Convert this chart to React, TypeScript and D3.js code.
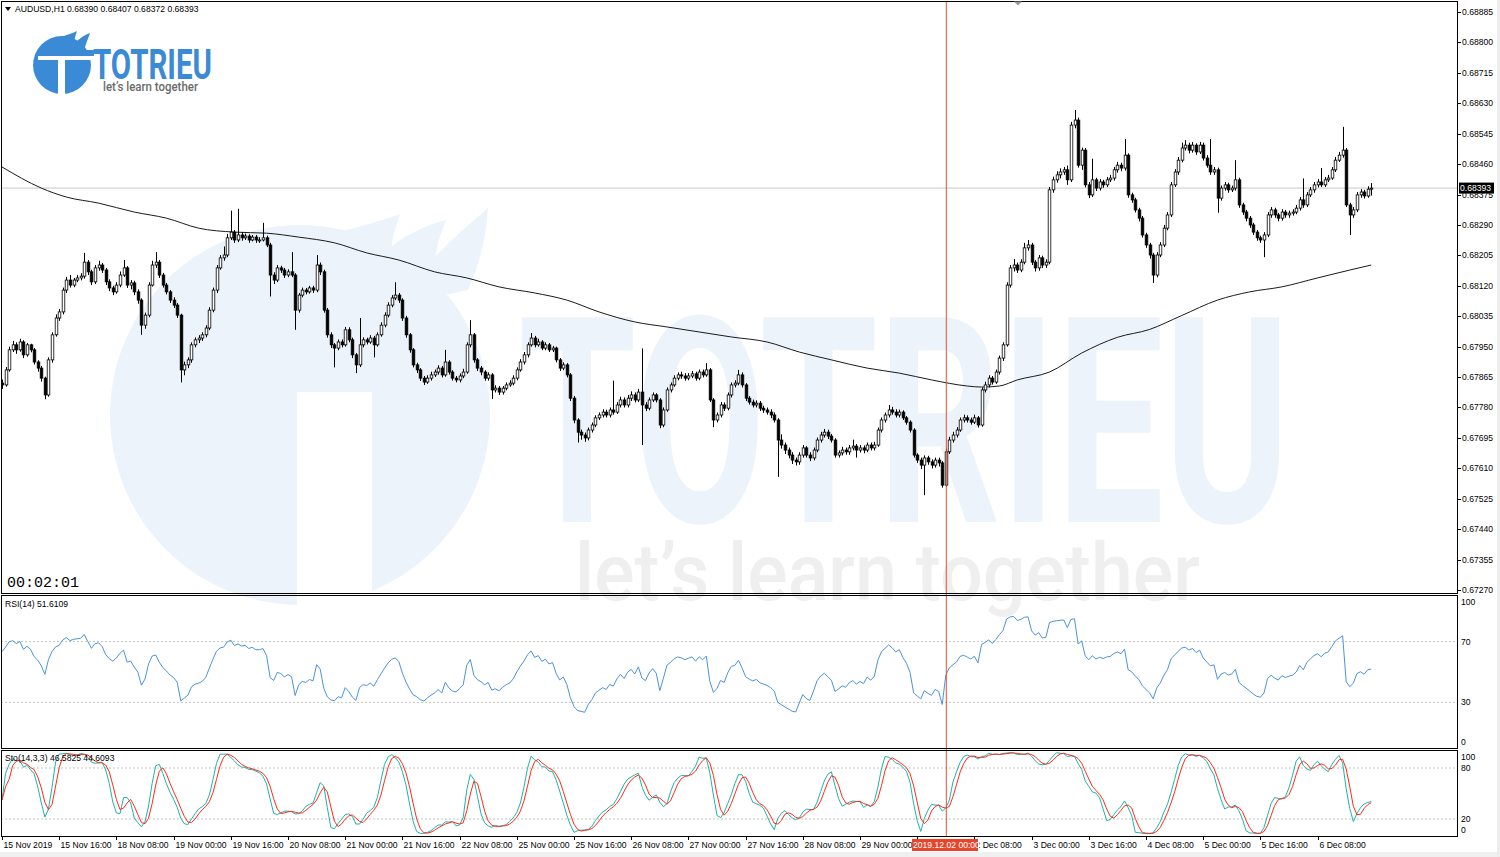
import React, { useEffect, useRef } from "react";
import * as d3 from "d3";

// AUDUSD H1 bars, prices in points above 0.67000: [close, high, low]
// open of each bar = close of the previous one
const firstOpen = 848;

const nov15 = [[843,858,832],[885,893,838],[941,950,880],[955,966,935],[941,962,930],[963,972,936],[927,968,918],[955,960,922],[941,958,934],[907,946,900],[890,912,880],[862,896,852],[815,866,803],[913,920,810],[983,990,905],[1030,1040,978],[1047,1055,1022],[1108,1115,1040],[1136,1145,1100],[1122,1150,1115],[1136,1142,1116],[1142,1150,1130],[1147,1155,1135],[1186,1212,1140]];
const nov18 = [[1159,1192,1150],[1131,1165,1122],[1170,1178,1125],[1178,1190,1162],[1164,1184,1156],[1131,1170,1122],[1114,1138,1105],[1103,1120,1094],[1122,1130,1098],[1150,1160,1116],[1170,1192,1145],[1122,1175,1114],[1128,1136,1110],[1103,1134,1094],[1080,1110,1070],[1010,1085,983],[1038,1045,1000],[1122,1130,1032],[1178,1190,1118],[1186,1214,1170],[1150,1192,1142],[1122,1156,1115],[1103,1128,1096],[1080,1108,1072]];
const nov19 = [[1066,1088,1058],[1038,1072,1030],[885,1042,850],[899,908,870],[913,920,890],[955,962,905],[969,976,948],[974,982,960],[983,990,966],[1002,1010,976],[1052,1060,996],[1108,1115,1046],[1170,1178,1100],[1198,1206,1165],[1206,1230,1190],[1254,1265,1200],[1270,1330,1248],[1248,1276,1240],[1262,1335,1242],[1254,1270,1246],[1259,1266,1248],[1248,1264,1240],[1256,1262,1244],[1248,1262,1240]];
const nov20 = [[1248,1256,1240],[1254,1296,1244],[1234,1260,1228],[1150,1240,1090],[1136,1158,1125],[1170,1178,1130],[1164,1176,1156],[1150,1170,1142],[1159,1166,1144],[1150,1214,1144],[1052,1155,997],[1094,1100,1045],[1108,1115,1088],[1103,1114,1096],[1114,1120,1098],[1108,1120,1100],[1178,1206,1102],[1159,1185,1150],[1052,1165,1045],[983,1058,975],[955,990,946],[946,960,892],[963,970,940],[955,970,948]];
const nov21 = [[997,1005,950],[969,1004,962],[927,975,918],[899,932,876],[955,1030,893],[969,976,948],[963,975,956],[974,982,958],[955,980,920],[983,990,950],[1010,1018,978],[1038,1046,1004],[1066,1074,1032],[1086,1094,1060],[1094,1130,1080],[1080,1100,1072],[1030,1085,1022],[983,1036,975],[941,988,933],[899,946,892],[885,905,876],[862,890,854],[851,868,843],[862,870,846]];
const nov22 = [[871,880,855],[879,886,865],[890,898,872],[871,896,864],[907,941,866],[879,912,872],[862,884,855],[857,868,850],[868,875,850],[879,888,862],[955,962,874],[983,1024,948],[913,988,905],[890,918,882],[879,896,870],[862,884,855],[871,878,855],[829,876,804],[834,842,822],[823,840,815],[834,840,816],[843,850,828],[848,856,838],[862,870,842]];
const nov25 = [[885,892,856],[907,915,880],[927,935,900],[955,962,920],[974,988,950],[955,980,948],[963,972,950],[946,968,940],[955,962,940],[941,960,935],[946,952,935],[913,950,906],[890,918,882],[899,906,884],[871,904,864],[806,876,798],[745,812,736],[711,750,682],[703,718,690],[695,710,684],[717,724,688],[731,738,710],[751,758,725],[759,766,745]];
const nov26 = [[767,775,752],[759,774,752],[773,780,752],[767,855,760],[787,795,762],[801,810,780],[787,808,780],[806,815,780],[815,825,798],[801,822,794],[823,832,795],[787,945,675],[778,795,770],[801,808,772],[815,822,795],[801,820,794],[731,806,722],[773,780,725],[829,836,768],[843,850,822],[862,870,838],[871,878,856],[868,880,860],[862,876,855]];
const nov27 = [[868,876,856],[874,882,862],[862,880,855],[879,886,856],[871,886,864],[885,904,866],[801,890,795],[745,806,725],[759,766,738],[787,795,752],[778,794,770],[815,822,772],[843,850,808],[848,856,836],[871,885,842],[843,878,836],[806,848,798],[795,812,788],[787,802,780],[792,800,780],[778,798,770],[773,785,765],[767,780,760],[759,775,750]];
const nov28 = [[745,766,738],[689,750,586],[675,705,665],[661,682,650],[647,668,638],[633,655,622],[628,640,618],[647,655,620],[667,675,640],[647,672,640],[639,655,630],[661,668,632],[689,696,655],[703,712,682],[711,720,696],[700,718,692],[689,706,682],[647,694,640],[653,660,640],[661,670,646],[656,668,648],[667,675,648],[672,690,660],[661,678,640]];
const nov29 = [[667,675,654],[661,674,652],[675,682,655],[667,682,660],[675,684,660],[717,724,670],[745,752,710],[759,766,738],[773,787,752],[767,782,760],[759,775,752],[767,774,752],[751,772,745],[739,756,732],[717,744,710],[647,722,640],[633,652,625],[619,640,608],[639,646,535],[628,645,620],[619,635,610],[633,640,612],[625,640,615],[563,630,556]];
const dec02 = [[656,665,558],[689,698,650],[703,712,682],[717,725,696],[745,752,712],[751,760,738],[745,758,738],[739,752,732],[751,760,734],[731,756,724],[829,836,726],[843,852,822],[862,870,836],[851,868,844],[879,886,846],[918,925,872],[955,962,910],[1122,1130,950],[1170,1178,1115],[1178,1195,1160],[1164,1185,1156],[1186,1194,1158],[1226,1240,1180],[1234,1248,1218]];
const dec03 = [[1186,1240,1178],[1170,1192,1160],[1198,1206,1162],[1178,1204,1170],[1186,1194,1170],[1388,1396,1180],[1416,1425,1380],[1430,1440,1408],[1438,1448,1420],[1444,1452,1430],[1416,1456,1402],[1569,1578,1410],[1583,1611,1560],[1457,1590,1450],[1499,1506,1444],[1402,1505,1395],[1374,1410,1365],[1416,1475,1368],[1393,1422,1385],[1410,1418,1386],[1402,1416,1394],[1416,1424,1396],[1421,1430,1410],[1444,1452,1414]];
const dec04 = [[1457,1466,1436],[1449,1464,1440],[1485,1530,1442],[1374,1490,1366],[1360,1380,1352],[1332,1366,1325],[1309,1338,1300],[1262,1315,1255],[1234,1268,1226],[1206,1240,1196],[1150,1212,1128],[1206,1214,1144],[1234,1242,1200],[1281,1290,1228],[1318,1326,1275],[1402,1410,1312],[1438,1446,1396],[1471,1480,1430],[1505,1520,1465],[1513,1527,1498],[1499,1520,1490],[1513,1522,1492],[1494,1518,1486],[1513,1522,1488]];
const dec05 = [[1477,1520,1470],[1457,1485,1450],[1438,1530,1430],[1444,1452,1430],[1365,1450,1324],[1393,1400,1358],[1402,1410,1386],[1388,1408,1380],[1393,1400,1382],[1416,1471,1386],[1346,1422,1338],[1326,1352,1318],[1309,1332,1300],[1290,1315,1282],[1270,1296,1262],[1254,1276,1246],[1248,1260,1240],[1262,1270,1200],[1318,1326,1256],[1332,1340,1310],[1318,1338,1310],[1309,1324,1300],[1326,1334,1302],[1318,1332,1310]];
const dec06 = [[1323,1330,1310],[1326,1334,1316],[1337,1346,1320],[1360,1368,1330],[1346,1420,1338],[1374,1382,1340],[1388,1396,1368],[1402,1410,1380],[1410,1418,1395],[1402,1449,1396],[1416,1424,1396],[1421,1430,1410],[1444,1452,1416],[1471,1480,1438],[1485,1494,1466],[1499,1564,1478],[1346,1505,1340],[1318,1352,1262],[1332,1340,1310],[1374,1382,1326],[1382,1390,1366],[1371,1388,1364],[1390,1398,1366],[1393,1407,1372]];

const sessions = [nov15, nov18, nov19, nov20, nov21, nov22, nov25, nov26, nov27, nov28, nov29, dec02, dec03, dec04, dec05, dec06];

// moving average: bar index -> points above 0.67000
const maBars = [0,11,18,27,37,46,55,65,74,83,93,102,111,121,130,139,149,158,167,177,186,195,204,214,223,232,242,251,260,270,274,279,284,293,302,312,321,330,340,349,358,368,377,383];
const maValues = [1452,1393,1368,1351,1326,1309,1281,1270,1267,1256,1240,1212,1192,1159,1142,1117,1100,1080,1047,1019,1005,991,977,963,935,913,890,876,857,840,837,840,857,879,932,976,998,1037,1080,1103,1117,1142,1164,1178];

const priceTicks = [0.68885,0.688,0.68715,0.6863,0.68545,0.6846,0.68375,0.6829,0.68205,0.6812,0.68035,0.6795,0.67865,0.6778,0.67695,0.6761,0.67525,0.6744,0.67355,0.6727];
const timeLabels = ["15 Nov 2019","15 Nov 16:00","18 Nov 08:00","19 Nov 00:00","19 Nov 16:00","20 Nov 08:00","21 Nov 00:00","21 Nov 16:00","22 Nov 08:00","25 Nov 00:00","25 Nov 16:00","26 Nov 08:00","27 Nov 00:00","27 Nov 16:00","28 Nov 08:00","29 Nov 00:00","29 Nov 16:00","2 Dec 08:00","3 Dec 00:00","3 Dec 16:00","4 Dec 08:00","5 Dec 00:00","5 Dec 16:00","6 Dec 08:00"];
const rsiAxis = [100, 70, 30, 0];
const stoAxis = [100, 80, 20, 0];
const rsiLevels = [70, 30];
const stoLevels = [80, 20];

const headerText = "AUDUSD,H1  0.68390 0.68407 0.68372 0.68393";
const rsiText = "RSI(14) 51.6109";
const stoText = "Sto(14,3,3) 46.5825 44.6093";
const timerText = "00:02:01";
const lastPrice = 0.68393;
const cursorBar = 264;
const cursorText = "2019.12.02 00:00";

const W = 1500;
const H = 857;
const FONT = "'Liberation Sans', Arial, sans-serif";
const BAR_STEP = 3.575;

type Bar = { i: number; o: number; h: number; l: number; c: number };

const toPrice = (v: number) => 0.67 + v / 1e5;

function buildBars(): Bar[] {
  const out: Bar[] = [];
  let prev = firstOpen;
  sessions.flat().forEach(([c, h, l], i) => {
    out.push({ i, o: toPrice(prev), h: toPrice(h), l: toPrice(l), c: toPrice(c) });
    prev = c;
  });
  return out;
}

// Wilder RSI, first state taken from the first 14 changes
function rsiOf(closes: number[], n = 14) {
  const ch = closes.map((c, i) => (i ? c - closes[i - 1] : 0));
  let g = 0, l = 0;
  for (let i = 1; i <= n; i++) { g += Math.max(ch[i], 0); l += Math.max(-ch[i], 0); }
  g /= n; l /= n;
  const out = [100 - 100 / (1 + g / l)];
  for (let i = 1; i < closes.length; i++) {
    g = (g * (n - 1) + Math.max(ch[i], 0)) / n;
    l = (l * (n - 1) + Math.max(-ch[i], 0)) / n;
    out.push(l === 0 ? 100 : 100 - 100 / (1 + g / l));
  }
  return out;
}

function stochOf(bars: Bar[], k = 14, d = 3, slow = 3) {
  const num: number[] = [], den: number[] = [];
  bars.forEach((b, i) => {
    const w = bars.slice(Math.max(0, i - k + 1), i + 1);
    const ll = d3.min(w, x => x.l)!, hh = d3.max(w, x => x.h)!;
    num.push(b.c - ll); den.push(hh - ll);
  });
  const main = num.map((_, i) => {
    const a = Math.max(0, i - slow + 1);
    const sd = d3.sum(den.slice(a, i + 1));
    return sd ? (100 * d3.sum(num.slice(a, i + 1))) / sd : 50;
  });
  const signal = main.map((_, i) => d3.mean(main.slice(Math.max(0, i - d + 1), i + 1))!);
  return { main, signal };
}

// squeeze a text horizontally so it spans exactly `width` px
function fitText(sel: d3.Selection<SVGTextElement, unknown, null, undefined>, x0: number, y0: number, width: number) {
  const natural = sel.node()!.getComputedTextLength() || width;
  sel.attr("x", 0).attr("y", 0).attr("transform", `translate(${x0},${y0}) scale(${width / natural},1)`);
}

export default function App() {
  const svgRef = useRef<SVGSVGElement>(null);

  useEffect(() => {
    const svg = d3.select(svgRef.current);
    svg.selectAll("*").remove();

    const bars = buildBars();
    const n = bars.length;
    const rsi = rsiOf(bars.map(b => b.c));
    const sto = stochOf(bars);

    const x = d3.scaleLinear().domain([0, n - 1]).range([2, 2 + (n - 1) * BAR_STEP]);
    const yP = d3.scaleLinear().domain([0.6727, 0.68885]).range([590, 12]);
    const yR = d3.scaleLinear().domain([0, 100]).range([748, 596]);
    const yS = d3.scaleLinear().domain([0, 100]).range([836, 751]);

    svg.append("rect").attr("width", W).attr("height", H).attr("fill", "#fff");
    svg.append("rect").attr("x", 0).attr("y", 852).attr("width", W).attr("height", 5).attr("fill", "#f0f0f0");
    svg.append("rect").attr("x", 1497).attr("y", 0).attr("width", 3).attr("height", H).attr("fill", "#ececec");

    // watermark
    const wm = svg.append("g");
    wm.append("circle").attr("cx", 300).attr("cy", 415).attr("r", 190).attr("fill", "#edf3fa");
    wm.append("path")
      .attr("d", "M330,236 C360,225 380,222 400,214 C395,230 392,238 392,246 C410,232 430,224 446,220 C440,236 436,246 436,256 C455,236 472,222 488,208 C486,240 478,268 468,290 L420,300 Z")
      .attr("fill", "#edf3fa");
    wm.append("rect").attr("x", 297).attr("y", 392).attr("width", 75).attr("height", 230).attr("fill", "#fff");
    const bigWord = wm.append("text").attr("font-family", "Roboto, sans-serif").attr("font-weight", 700)
      .attr("font-size", 288).attr("fill", "#edf3fa").text("TOTRIEU");
    fitText(bigWord, 518, 522, 772);
    const bigTag = wm.append("text").attr("font-family", "Roboto, sans-serif").attr("font-weight", 500)
      .attr("font-size", 80).attr("fill", "#efefef").text("let\u2019s learn together");
    fitText(bigTag, 575, 600, 625);

    // small logo
    const logo = svg.append("g");
    logo.append("circle").attr("cx", 62).attr("cy", 65).attr("r", 29).attr("fill", "#3b8ad6");
    logo.append("path").attr("d", "M47,45 C57,37 69,35 77,31 C75,37 74,40 75,43 C81,37 85,35 90,33 C87,41 85,47 83,53 L60,55 Z").attr("fill", "#3b8ad6");
    logo.append("rect").attr("x", 38).attr("y", 56).attr("width", 56).attr("height", 4).attr("fill", "#fff");
    logo.append("rect").attr("x", 58).attr("y", 56).attr("width", 7).attr("height", 40).attr("fill", "#fff");
    logo.append("rect").attr("x", 65).attr("y", 50).attr("width", 29).attr("height", 6).attr("fill", "#3b8ad6");
    const logoWord = logo.append("text").attr("font-family", "Roboto, sans-serif").attr("font-weight", 700)
      .attr("font-size", 42).attr("fill", "#3b8ad6").text("TOTRIEU");
    fitText(logoWord, 93, 79, 119);
    const logoTag = logo.append("text").attr("font-family", "Roboto, sans-serif").attr("font-weight", 500)
      .attr("font-size", 13).attr("fill", "#6b6b6b").text("let\u2019s learn together");
    fitText(logoTag, 103, 91, 95);

    // clip paths
    const defs = svg.append("defs");
    defs.append("clipPath").attr("id", "mainClip").append("rect").attr("x", 1).attr("y", 1).attr("width", 1456).attr("height", 592);
    defs.append("clipPath").attr("id", "rsiClip").append("rect").attr("x", 1).attr("y", 595).attr("width", 1456).attr("height", 153);
    defs.append("clipPath").attr("id", "stoClip").append("rect").attr("x", 1).attr("y", 750).attr("width", 1456).attr("height", 86);
    defs.append("clipPath").attr("id", "timeClip").append("rect").attr("x", 979).attr("y", 836).attr("width", 520).attr("height", 20);

    const main = svg.append("g").attr("clip-path", "url(#mainClip)");

    // last price line
    main.append("line").attr("x1", 1).attr("x2", 1457).attr("y1", yP(lastPrice)).attr("y2", yP(lastPrice))
      .attr("stroke", "#c8c8c8").attr("stroke-width", 1);

    // moving average
    const maLine = d3.line<number>().x((_, i) => x(maBars[i])).y(v => yP(toPrice(v))).curve(d3.curveMonotoneX);
    main.append("path").attr("d", maLine(maValues)).attr("fill", "none").attr("stroke", "#1a1a1a").attr("stroke-width", 1);

    // candles
    const cg = main.append("g");
    cg.selectAll("line.wick").data(bars).enter().append("line")
      .attr("x1", d => Math.round(x(d.i)) + 0.5).attr("x2", d => Math.round(x(d.i)) + 0.5)
      .attr("y1", d => yP(d.h)).attr("y2", d => yP(d.l)).attr("stroke", "#000").attr("stroke-width", 1);
    cg.selectAll("rect.body").data(bars).enter().append("rect")
      .attr("x", d => Math.round(x(d.i)) - 0.8).attr("width", 2.6)
      .attr("y", d => yP(Math.max(d.o, d.c)))
      .attr("height", d => Math.max(1, Math.abs(yP(d.o) - yP(d.c))))
      .attr("fill", d => (d.c >= d.o ? "#fff" : "#000"))
      .attr("stroke", "#000").attr("stroke-width", 0.8);

    // timer
    svg.append("text").attr("x", 7).attr("y", 587).attr("font-family", "'Liberation Mono', monospace")
      .attr("font-size", 15).attr("fill", "#000").text(timerText);

    // RSI panel
    const rg = svg.append("g").attr("clip-path", "url(#rsiClip)");
    rsiLevels.forEach(v => rg.append("line").attr("x1", 1).attr("x2", 1457).attr("y1", yR(v)).attr("y2", yR(v))
      .attr("stroke", "#c4c4c4").attr("stroke-dasharray", "2,2"));
    const rLine = d3.line<number>().x((_, i) => x(i)).y(v => yR(v));
    rg.append("path").attr("d", rLine(rsi)).attr("fill", "none").attr("stroke", "#4a94d8").attr("stroke-width", 1);

    // Stochastic panel
    const sg = svg.append("g").attr("clip-path", "url(#stoClip)");
    stoLevels.forEach(v => sg.append("line").attr("x1", 1).attr("x2", 1457).attr("y1", yS(v)).attr("y2", yS(v))
      .attr("stroke", "#c4c4c4").attr("stroke-dasharray", "2,2"));
    const sLine = d3.line<number>().x((_, i) => x(i)).y(v => yS(v));
    sg.append("path").attr("d", sLine(sto.main)).attr("fill", "none").attr("stroke", "#20b2aa").attr("stroke-width", 1);
    sg.append("path").attr("d", sLine(sto.signal)).attr("fill", "none").attr("stroke", "#ff2a1a").attr("stroke-width", 1);

    // cursor line
    svg.append("line").attr("x1", x(cursorBar) + 0.5).attr("x2", x(cursorBar) + 0.5).attr("y1", 1).attr("y2", 836)
      .attr("stroke", "#e2532f").attr("stroke-width", 1);

    // panel frames
    [[1, 1, 1456, 592], [1, 595, 1456, 153], [1, 750, 1456, 86]].forEach(([px, py, pw, ph]) =>
      svg.append("rect").attr("x", px + 0.5).attr("y", py + 0.5).attr("width", pw).attr("height", ph)
        .attr("fill", "none").attr("stroke", "#000").attr("stroke-width", 1));

    // price axis
    const axisText = (g: d3.Selection<any, any, any, any>) =>
      g.attr("font-family", FONT).attr("font-size", 8.6).attr("fill", "#000");
    const pa = svg.append("g");
    priceTicks.forEach(p => {
      pa.append("line").attr("x1", 1457).attr("x2", 1461).attr("y1", Math.round(yP(p)) + 0.5).attr("y2", Math.round(yP(p)) + 0.5).attr("stroke", "#000");
      pa.append("text").attr("x", 1462).attr("y", yP(p) + 3).call(axisText).text(p.toFixed(5));
    });
    pa.append("rect").attr("x", 1459).attr("y", yP(lastPrice) - 5.5).attr("width", 35).attr("height", 11).attr("fill", "#000");
    pa.append("text").attr("x", 1460).attr("y", yP(lastPrice) + 3).call(axisText).attr("fill", "#fff").text(lastPrice.toFixed(5));

    // RSI / Sto axes
    rsiAxis.forEach(v => {
      const yy = Math.min(Math.max(yR(v), 602), 742);
      svg.append("text").attr("x", 1461).attr("y", yy + 3).call(axisText).text(String(v));
    });
    stoAxis.forEach(v => {
      const yy = v === 100 ? 757 : v === 0 ? 830 : yS(v);
      svg.append("text").attr("x", 1461).attr("y", yy + 3).call(axisText).text(String(v));
    });

    // time axis: labels hidden by the cursor box are not drawn, partly hidden ones are clipped
    const ta = svg.append("g");
    const boxL = 912, boxR = 978;
    timeLabels.forEach((t, k) => {
      const xx = Math.round(x(k * 16)) + 0.5;
      ta.append("line").attr("x1", xx).attr("x2", xx).attr("y1", 836).attr("y2", 840).attr("stroke", "#000");
      if (xx + 1 >= boxL && xx + 1 < boxR - 10) return;
      const lbl = ta.append("text").attr("x", xx + 1).attr("y", 848).call(axisText).text(t);
      if (xx + 1 >= boxR - 10 && xx + 1 < boxR) lbl.attr("clip-path", "url(#timeClip)");
    });
    ta.append("rect").attr("x", boxL).attr("y", 839).attr("width", boxR - boxL).attr("height", 12).attr("fill", "#e5452b");
    ta.append("text").attr("x", boxL + 1).attr("y", 848).call(axisText).attr("fill", "#fff").text(cursorText);

    // headers
    svg.append("path").attr("d", "M5,7 L11,7 L8,11 Z").attr("fill", "#000");
    svg.append("text").attr("x", 15).attr("y", 12).call(axisText).text(headerText);
    svg.append("text").attr("x", 5).attr("y", 607).call(axisText).text(rsiText);
    svg.append("text").attr("x", 5).attr("y", 761).call(axisText).text(stoText);
    svg.append("path").attr("d", "M1014,1.5 L1022,1.5 L1018,5.5 Z").attr("fill", "#9a9a9a");
  }, []);

  return <svg ref={svgRef} width={W} height={H} style={{ position: "absolute", left: 0, top: 0, display: "block" }} />;
}
